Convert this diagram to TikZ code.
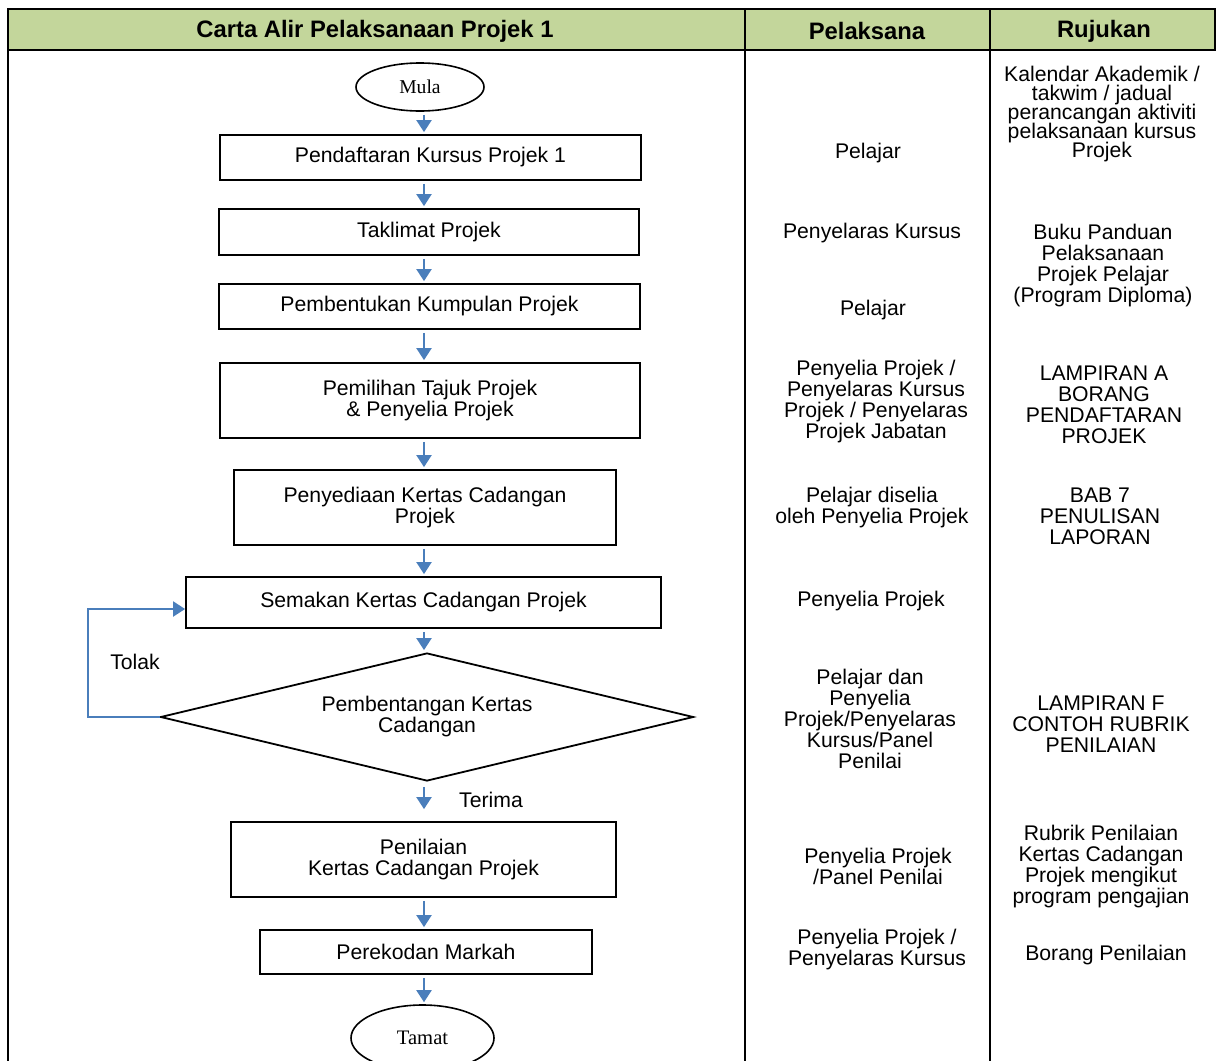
\documentclass[tikz,border=0pt]{standalone}
\usepackage{fontspec}
\setmainfont{Liberation Sans}
\newfontfamily\termfont{Liberation Serif}
\usetikzlibrary{shapes.geometric, arrows.meta}

\definecolor{headgreen}{RGB}{195,214,155}
\definecolor{flowblue}{RGB}{74,126,187}

\newcommand{\tightlines}{\fontsize{10.6}{9.5}\selectfont\lineskiplimit -20pt\relax}

\begin{document}
\begin{tikzpicture}[x = 0.5pt, y = -0.5pt, > = {Triangle[width = 7.5pt, length = 6pt]},
	font = \fontsize{10.6}{10.5}\selectfont,
	box/.style = {draw, line width = 0.9pt, inner sep = 0pt, align = center},
	term/.style = {draw, ellipse, line width = 0.8pt, inner sep = 0pt, font = \termfont\fontsize{9.8}{11}\selectfont},
	flow/.style = {->, flowblue, line width = 1pt, shorten < = 1.5pt},
	cell/.style = {align = center},
	rule/.style = {line width = 1.2pt}]

	% Definitions

	\useasboundingbox (0, 0) rectangle (1217, 1061);

	\coordinate (spine) at (424, 0);	% Common x of the flow arrows

	% Draw table

	\fill [headgreen] (8, 9) rectangle (1215, 50);
	\draw [rule] (8, 1061) -- (8, 9) -- (1215, 9) -- (1215, 50) -- (8, 50);
	\foreach \x in {745, 990}
		\draw [rule] (\x, 9) -- (\x, 1061);

	\node [font = \bfseries\fontsize{11.9}{12}\selectfont] (hflow) at (375, 31) {Carta Alir Pelaksanaan Projek 1};
	\node [font = \bfseries\fontsize{11.9}{12}\selectfont] (hby) at (867, 31) {Pelaksana};
	\node [font = \bfseries\fontsize{11.9}{12}\selectfont] (href) at (1104, 31) {Rujukan};

	% Draw flow chart

	\node [term, minimum width = 64pt, minimum height = 24pt] (mula) at (420, 87) {Mula};

	\foreach \n/\x/\y/\w/\h/\txt in {
		b1/430.5/157.5/210.5/22.5/{Pendaftaran Kursus Projek 1},
		b2/429/232/210/23/{Taklimat Projek},
		b3/429.5/306.5/210.5/22.5/{Pembentukan Kumpulan Projek},
		b4/430/400.5/210/37.5/{Pemilihan Tajuk Projek\\\& Penyelia Projek},
		b5/425/507.5/191/37.5/{Penyediaan Kertas Cadangan\\Projek},
		b6/423.5/602.5/237.5/25.5/{Semakan Kertas Cadangan Projek},
		b7/423.5/859.5/192.5/37.5/{Penilaian\\Kertas Cadangan Projek},
		b8/426/952/166/22/{Perekodan Markah}}
		\node [box, minimum width = \w pt, minimum height = \h pt] (\n) at (\x, \y) {\txt};

	\node [draw, diamond, shape aspect = 4.16, line width = 0.9pt, inner sep = 0pt, align = center,
		minimum width = 266.5pt, minimum height = 64pt] (dec) at (427, 717) {Pembentangan Kertas\\Cadangan};

	\node [term, minimum width = 71.5pt, minimum height = 33pt, font = \termfont\fontsize{10.3}{11}\selectfont] (tamat) at (422.5, 1038) {Tamat};

	\foreach \a/\b in {mula/b1, b1/b2, b2/b3, b3/b4, b4/b5, b5/b6, b6/dec, b7/b8, b8/tamat}
		\draw [flow, shorten > = 1pt] (\a.south -| spine) -- (\b.north -| spine);

	\draw [flow, shorten < = 2.5pt, shorten > = 6pt] (dec.south -| spine) -- (b7.north -| spine);
	\node (terima) at (491, 800) {Terima};

	\draw [flow, shorten < = 0pt] (dec.west) -- ++(-72, 0) |- ([yshift = -3.25pt] b6.west);
	\node (tolak) at (135, 662) {Tolak};

	% Pelaksana column

	\node [cell] (p1) at (868, 153) {Pelajar};
	\node [cell] (p2) at (872, 233) {Penyelaras Kursus};
	\node [cell] (p3) at (873, 310) {Pelajar};
	\node [cell] (p4) at (876, 402) {Penyelia Projek /\\Penyelaras Kursus\\Projek / Penyelaras\\Projek Jabatan};
	\node [cell] (p5) at (872, 508) {Pelajar diselia\\oleh Penyelia Projek};
	\node [cell] (p6) at (871, 601) {Penyelia Projek};
	\node [cell] (p7) at (870, 719) {Pelajar dan\\Penyelia\\Projek/Penyelaras\\Kursus/Panel\\Penilai};
	\node [cell] (p8) at (878, 866) {Penyelia Projek\\/Panel Penilai};
	\node [cell] (p9) at (877, 950) {Penyelia Projek /\\Penyelaras Kursus};

	% Rujukan column

	\node [cell, font = \tightlines] (r1) at (1102, 114) {Kalendar Akademik /\\takwim / jadual\\perancangan aktiviti\\pelaksanaan kursus\\Projek};
	\node [cell] (r2) at (1103, 266) {Buku Panduan\\Pelaksanaan\\Projek Pelajar\\(Program Diploma)};
	\node [cell] (r3) at (1104, 405) {LAMPIRAN A\\BORANG\\PENDAFTARAN\\PROJEK};
	\node [cell] (r4) at (1100, 516) {BAB 7\\PENULISAN\\LAPORAN};
	\node [cell] (r5) at (1101, 724) {LAMPIRAN F\\CONTOH RUBRIK\\PENILAIAN};
	\node [cell] (r6) at (1101, 867) {Rubrik Penilaian\\Kertas Cadangan\\Projek mengikut\\program pengajian};
	\node [cell] (r7) at (1106, 955) {Borang Penilaian};

\end{tikzpicture}
\end{document}
